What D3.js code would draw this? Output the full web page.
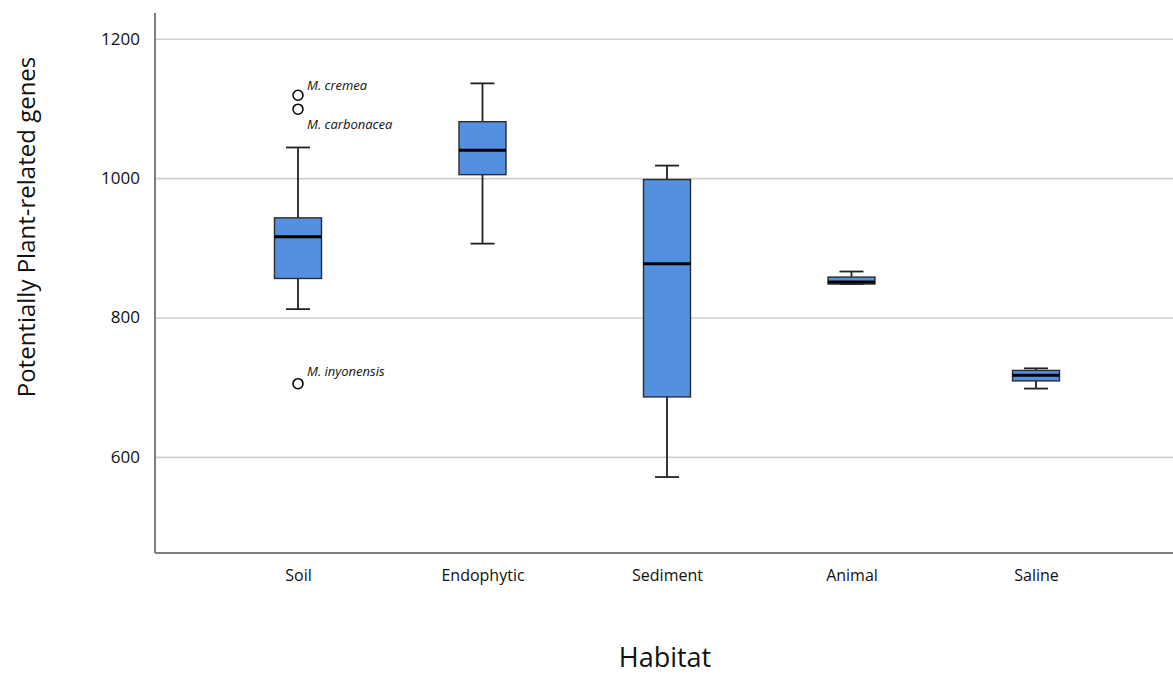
<!DOCTYPE html>
<html>
<head>
<meta charset="utf-8">
<script src="https://cdn.jsdelivr.net/npm/d3@7"></script>
<style>
  body { margin: 0; background: #fff; }
  svg text { font-family: "Open Sans", "Noto Sans", sans-serif; fill: #111; }
  .grid line { stroke: #cfcfcf; stroke-width: 1.6; }
  .axis-line { stroke: #7f7f7f; stroke-width: 2; }
  .box { fill: #5391e0; stroke: #2b2b2b; stroke-width: 1.4; }
  .median { stroke: #000; stroke-width: 3; }
  .whisker { stroke: #222; stroke-width: 1.8; }
  .outlier { fill: #fff; stroke: #000; stroke-width: 1.5; }
</style>
</head>
<body>
<div id="chart"></div>
<script>
// habitats and box statistics
const habitats = ["Soil", "Endophytic", "Sediment", "Animal", "Saline"];
const whiskerLow = [812, 906, 571, 848, 698];
const q1 = [856, 1005, 686, 848, 709];
const median = [916, 1040, 877, 851, 717];
const q3 = [943, 1081, 998, 858, 724];
const whiskerHigh = [1044, 1136, 1018, 866, 727];

// labelled outliers
const outlierHabitat = ["Soil", "Soil", "Soil"];
const outlierValue = [1119, 1099, 705];
const outlierName = ["M. cremea", "M. carbonacea", "M. inyonensis"];

const yTicks = [600, 800, 1000, 1200];

const width = 1173, height = 675;
const plotLeft = 155, plotTop = 13, plotBottom = 553;

const svg = d3.select("#chart")
  .append("svg")
  .attr("width", width)
  .attr("height", height);

const x = d3.scalePoint().domain(habitats).range([298, 1036]);
const y = d3.scaleLinear().domain([462, 1237]).range([plotBottom, plotTop]);

const boxWidth = 47, capWidth = 24;

// gridlines
svg.append("g")
  .attr("class", "grid")
  .attr("transform", "translate(" + plotLeft + ",0)")
  .call(d3.axisLeft(y).tickValues(yTicks).tickSize(-(width - plotLeft)).tickFormat(""))
  .call(g => g.select(".domain").remove());

// y tick labels
svg.append("g")
  .attr("transform", "translate(" + plotLeft + ",0)")
  .call(d3.axisLeft(y).tickValues(yTicks).tickSize(0).tickPadding(15).tickFormat(d3.format("d")))
  .call(g => g.select(".domain").remove())
  .selectAll("text")
  .style("font-size", "17px");

// axis lines
svg.append("line").attr("class", "axis-line")
  .attr("x1", plotLeft).attr("x2", plotLeft)
  .attr("y1", plotTop).attr("y2", plotBottom);
svg.append("line").attr("class", "axis-line")
  .attr("x1", plotLeft).attr("x2", width)
  .attr("y1", plotBottom).attr("y2", plotBottom);

// x category labels
svg.append("g")
  .attr("transform", "translate(0," + plotBottom + ")")
  .call(d3.axisBottom(x).tickSize(0).tickPadding(17))
  .call(g => g.select(".domain").remove())
  .selectAll("text")
  .style("font-size", "16px");

const stats = habitats.map((h, i) => ({
  habitat: h, lo: whiskerLow[i], q1: q1[i], med: median[i], q3: q3[i], hi: whiskerHigh[i]
}));

const boxes = svg.append("g").selectAll("g")
  .data(stats)
  .enter()
  .append("g")
  .attr("transform", d => "translate(" + x(d.habitat) + ",0)");

// whisker stems
boxes.append("line").attr("class", "whisker")
  .attr("x1", 0).attr("x2", 0)
  .attr("y1", d => y(d.hi)).attr("y2", d => y(d.q3));
boxes.append("line").attr("class", "whisker")
  .attr("x1", 0).attr("x2", 0)
  .attr("y1", d => y(d.q1)).attr("y2", d => y(d.lo));

// caps
boxes.append("line").attr("class", "whisker")
  .attr("x1", -capWidth / 2).attr("x2", capWidth / 2)
  .attr("y1", d => y(d.hi)).attr("y2", d => y(d.hi));
boxes.append("line").attr("class", "whisker")
  .attr("x1", -capWidth / 2).attr("x2", capWidth / 2)
  .attr("y1", d => y(d.lo)).attr("y2", d => y(d.lo));

boxes.append("rect").attr("class", "box")
  .attr("x", -boxWidth / 2)
  .attr("width", boxWidth)
  .attr("y", d => y(d.q3))
  .attr("height", d => y(d.q1) - y(d.q3));

boxes.append("line").attr("class", "median")
  .attr("x1", -boxWidth / 2).attr("x2", boxWidth / 2)
  .attr("y1", d => y(d.med)).attr("y2", d => y(d.med));

// outliers with species labels
const outliers = outlierValue.map((v, i) => ({ habitat: outlierHabitat[i], value: v, name: outlierName[i] }));
const labelDy = { "M. cremea": -15, "M. carbonacea": 10, "M. inyonensis": -17 };

svg.append("g").selectAll("circle")
  .data(outliers)
  .enter()
  .append("circle")
  .attr("class", "outlier")
  .attr("r", 5)
  .attr("cx", d => x(d.habitat))
  .attr("cy", d => y(d.value));

svg.append("g").selectAll("text")
  .data(outliers)
  .enter()
  .append("text")
  .attr("x", d => x(d.habitat) + 9)
  .attr("y", d => y(d.value) + labelDy[d.name])
  .attr("dy", "0.75em")
  .style("font-size", "13px")
  .style("font-style", "italic")
  .text(d => d.name);

// axis titles
svg.append("text")
  .attr("transform", "translate(35,227) rotate(-90)")
  .attr("text-anchor", "middle")
  .style("font-size", "24px")
  .text("Potentially Plant-related genes");

svg.append("text")
  .attr("x", 665)
  .attr("y", 667)
  .attr("text-anchor", "middle")
  .style("font-size", "27px")
  .text("Habitat");
</script>
</body>
</html>
